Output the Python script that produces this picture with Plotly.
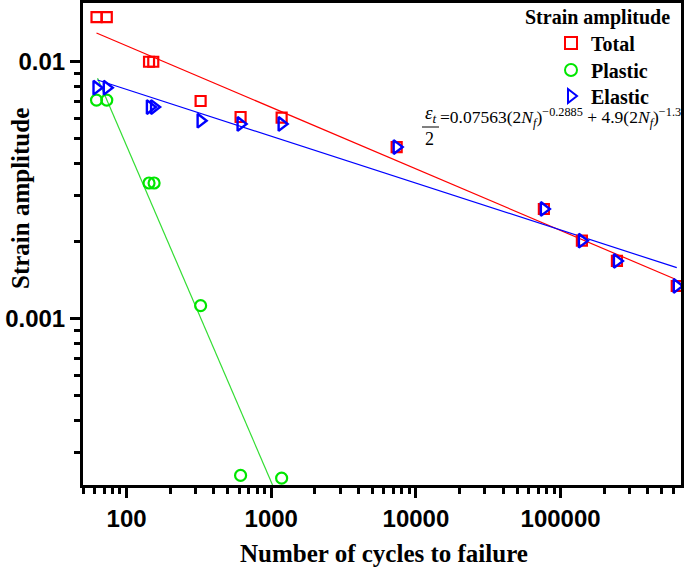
import plotly.graph_objects as go

# ---------------- data ----------------
cycles_total = [62, 73, 143, 153, 325, 614, 1180, 7360, 76600, 140300, 245000, 635000]
strain_total = [0.01493, 0.01493, 0.0100, 0.0100, 0.00703, 0.00609, 0.00606,
                0.00465, 0.002667, 0.002006, 0.001673, 0.001336]

cycles_plastic = [62, 73, 143, 155, 325, 614, 1180]
strain_plastic = [0.00709, 0.00709, 0.003367, 0.003367, 0.00112, 0.000244, 0.000238]

cycles_elastic = [62, 73, 145, 155, 325, 614, 1180, 7360, 76600, 140300, 245000, 635000]
strain_elastic = [0.00792, 0.00792, 0.00666, 0.00666, 0.00589, 0.00572, 0.00572,
                  0.00465, 0.002667, 0.002006, 0.001673, 0.001336]

# fitted lines (end points)
fit_total_x = [62, 616000]
fit_total_y = [0.01294, 0.001422]
fit_plastic_x = [63, 1100]
fit_plastic_y = [0.00862, 0.000203]
fit_elastic_x = [63, 635000]
fit_elastic_y = [0.00849, 0.001575]

x_tick_vals = [100, 1000, 10000, 100000]
x_tick_text = ["100", "1000", "10000", "100000"]
y_tick_vals = [0.001, 0.01]
y_tick_text = ["0.001", "0.01"]

RED = "#ff0000"
GREEN = "#00e600"
BLUE = "#0000ff"
SERIF = "Liberation Serif"
SANS = "Liberation Sans"

# ---------------- figure ----------------
fig = go.Figure()

fig.add_trace(go.Scatter(x=fit_total_x, y=fit_total_y, mode="lines",
                         line=dict(color=RED, width=1.2), showlegend=False, hoverinfo="skip"))
fig.add_trace(go.Scatter(x=fit_plastic_x, y=fit_plastic_y, mode="lines",
                         line=dict(color="#33dd33", width=1.2), showlegend=False, hoverinfo="skip"))
fig.add_trace(go.Scatter(x=fit_elastic_x, y=fit_elastic_y, mode="lines",
                         line=dict(color=BLUE, width=1.2), showlegend=False, hoverinfo="skip"))

fig.add_trace(go.Scatter(x=cycles_total, y=strain_total, mode="markers", name="Total",
                         legend="legend",
                         marker=dict(symbol="square-open", size=10, color=RED,
                                     line=dict(width=2.2, color=RED))))
fig.add_trace(go.Scatter(x=cycles_plastic, y=strain_plastic, mode="markers", name="Plastic",
                         legend="legend2",
                         marker=dict(symbol="circle-open", size=11, color=GREEN,
                                     line=dict(width=2.2, color=GREEN))))
fig.add_trace(go.Scatter(x=cycles_elastic, y=strain_elastic, mode="markers", name="Elastic",
                         legend="legend3",
                         marker=dict(symbol="triangle-right-open", size=12, color=BLUE,
                                     line=dict(width=2.4, color=BLUE))))

minor_x = [m * 10 ** e for e in range(1, 6) for m in range(2, 10)]
minor_y = [m * 10.0 ** e for e in range(-4, -1) for m in range(2, 10)]

fig.update_xaxes(
    type="log", range=[1.699, 5.832],
    tickmode="array", tickvals=x_tick_vals, ticktext=x_tick_text,
    ticks="outside", ticklen=10, tickwidth=3, tickcolor="black",
    minor=dict(tickmode="array", tickvals=minor_x, ticks="outside", ticklen=6,
               tickwidth=2.5, tickcolor="black", showgrid=False),
    showline=True, linewidth=3, linecolor="black", mirror=True,
    showgrid=False, zeroline=False, automargin=False,
    tickfont=dict(family=SANS, size=24, color="black", weight="bold"),
)
fig.update_yaxes(
    type="log", range=[-3.65, -1.771],
    tickmode="array", tickvals=y_tick_vals, ticktext=y_tick_text,
    ticks="outside", ticklen=10, tickwidth=3, tickcolor="black",
    minor=dict(tickmode="array", tickvals=minor_y, ticks="outside", ticklen=6,
               tickwidth=2.5, tickcolor="black", showgrid=False),
    showline=True, linewidth=3, linecolor="black", mirror=True,
    showgrid=False, zeroline=False, automargin=False,
    tickfont=dict(family=SANS, size=24, color="black", weight="bold"),
)

L, R, T, B = 83, 681, 3, 485
W, H = 685, 573
PW, PH = R - L, B - T


def px(x):
    return (x - L) / PW


def py(y):
    return (B - y) / PH


annotations = [
    dict(text="<b>Number of cycles to failure</b>", x=px(384), y=py(553),
         font=dict(family=SERIF, size=25, color="black")),
    dict(text="<b>Strain amplitude</b>", x=px(20), y=py(199), textangle=-90,
         font=dict(family=SERIF, size=25, color="black")),
    dict(text="<b>Strain amplitude</b>", x=px(672), y=py(17), xanchor="right",
         font=dict(family=SERIF, size=20, color="black")),
    dict(text="<i>ε<sub>t</sub></i>", x=px(431), y=py(114),
         font=dict(family=SERIF, size=19, color="black")),
    dict(text="2", x=px(430), y=py(139),
         font=dict(family=SERIF, size=18, color="black")),
    dict(text="=0.07563(2<i>N<sub>f</sub></i>)<sup>−0.2885</sup> + 4.9(2<i>N<sub>f</sub></i>)<sup>−1.3</sup>",
         x=px(438), y=py(117), xanchor="left",
         font=dict(family=SERIF, size=17.5, color="black")),
]
for a in annotations:
    a.update(xref="paper", yref="paper", showarrow=False)
    a.setdefault("xanchor", "center")
    a.setdefault("yanchor", "middle")

legend_style = dict(xanchor="left", yanchor="middle", bgcolor="rgba(0,0,0,0)", borderwidth=0,
                    font=dict(family=SERIF, size=20, color="black", weight="bold"),
                    itemsizing="constant")

fig.update_layout(
    width=W, height=H,
    margin=dict(l=L, r=W - R, t=T, b=H - B, pad=0),
    paper_bgcolor="white", plot_bgcolor="white",
    showlegend=True,
    legend=dict(x=px(551), y=py(43), **legend_style),
    legend2=dict(x=px(551), y=py(70), **legend_style),
    legend3=dict(x=px(551), y=py(96), **legend_style),
    annotations=annotations,
    shapes=[dict(type="line", xref="paper", yref="paper",
                 x0=px(422), x1=px(439), y0=py(127), y1=py(127),
                 line=dict(color="black", width=1))],
)

fig.write_html("out.html", config={"displayModeBar": False},
               post_script="document.body.style.margin='0';document.body.style.overflow='hidden';")
